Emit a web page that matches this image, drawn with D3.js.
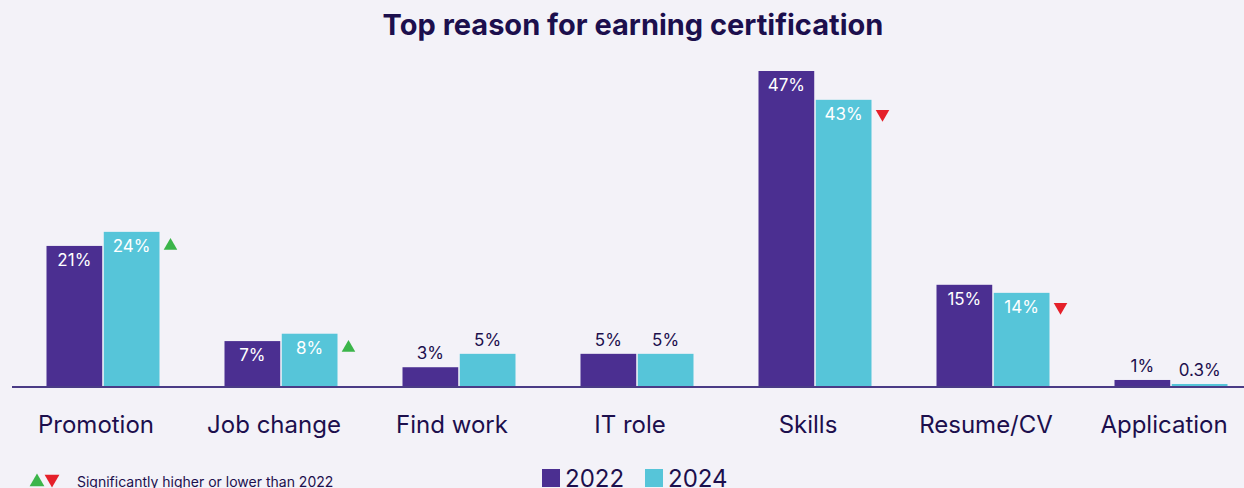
<!DOCTYPE html>
<html>
<head>
<meta charset="utf-8">
<script src="https://cdn.jsdelivr.net/npm/d3@7"></script>
<style>
  html, body { margin: 0; padding: 0; background: #f3f2f8; }
  svg { display: block; font-family: Inter, "Open Sans", sans-serif; }
</style>
</head>
<body>
<svg id="chart" width="1244" height="488"></svg>
<script>
const categories = ["Promotion", "Job change", "Find work", "IT role", "Skills", "Resume/CV", "Application"];
const seriesNames = ["2022", "2024"];
// bar heights
const values2022 = [20.9, 6.7, 2.8, 4.8, 47, 15.1, 0.9];
const values2024 = [23.0, 7.8, 4.8, 4.8, 42.7, 13.9, 0.3];
// printed labels
const labels2022 = ["21%", "7%", "3%", "5%", "47%", "15%", "1%"];
const labels2024 = ["24%", "8%", "5%", "5%", "43%", "14%", "0.3%"];
const significance = ["up", "up", null, null, "down", "down", null];

const colors = { "2022": "#4b2f91", "2024": "#56c5d9" };
const textDark = "#1c0f4d";

const svg = d3.select("#chart");
const W = 1244, H = 488;
const baseline = 386;

const x0 = d3.scaleBand().domain(categories).range([14, 1260]).paddingInner(0).paddingOuter(0);
const x1 = d3.scaleBand().domain(seriesNames).range([0, 113]).paddingInner(0.027);
const xOff = (x0.bandwidth() - 113) / 2;
const y = d3.scaleLinear().domain([0, 47]).range([baseline, 71]);

// Title
svg.append("text")
  .attr("x", 633).attr("y", 35)
  .attr("text-anchor", "middle")
  .attr("font-size", 29).attr("font-weight", 700)
  .attr("fill", textDark)
  .text("Top reason for earning certification");

const data = [];
categories.forEach((c, i) => {
  data.push({ cat: c, s: "2022", v: values2022[i], label: labels2022[i] });
  data.push({ cat: c, s: "2024", v: values2024[i], label: labels2024[i], sig: significance[i] });
});

const g = svg.append("g");

g.selectAll("rect.bar").data(data).enter().append("rect")
  .attr("class", "bar")
  .attr("x", d => x0(d.cat) + xOff + x1(d.s))
  .attr("y", d => y(d.v))
  .attr("width", x1.bandwidth())
  .attr("height", d => baseline - y(d.v))
  .attr("fill", d => colors[d.s]);

// Category axis
const xAxis = d3.axisBottom(x0).tickSize(0).tickPadding(0);
const axisG = svg.append("g").attr("transform", `translate(0,${baseline})`).call(xAxis);
axisG.select(".domain").remove();
axisG.selectAll("text")
  .attr("dy", 0).attr("y", 47).attr("dx", -7)
  .attr("font-size", 24).attr("fill", textDark)
  .attr("font-family", "Inter, sans-serif");
svg.append("line")
  .attr("x1", 12).attr("x2", W)
  .attr("y1", baseline + 1).attr("y2", baseline + 1)
  .attr("stroke", "#4a3b86").attr("stroke-width", 2);

// Value labels
g.selectAll("text.val").data(data).enter().append("text")
  .attr("class", "val")
  .attr("x", d => x0(d.cat) + xOff + x1(d.s) + x1.bandwidth() / 2)
  .attr("y", d => d.v >= 6 ? y(d.v) + 20 : y(d.v) - 8)
  .attr("text-anchor", "middle")
  .attr("font-size", 17)
  .attr("fill", d => d.v >= 6 ? "#ffffff" : textDark)
  .text(d => d.label);

// Significance markers
const tri = d3.symbol().type(d3.symbolTriangle).size(80);
g.selectAll("path.sig").data(data.filter(d => d.sig)).enter().append("path")
  .attr("class", "sig")
  .attr("transform", d => {
    const cx = x0(d.cat) + xOff + x1(d.s) + x1.bandwidth() + 11;
    const cy = y(d.v) + 14;
    return `translate(${cx},${cy}) rotate(${d.sig === "down" ? 180 : 0})`;
  })
  .attr("fill", d => d.sig === "up" ? "#3bb54a" : "#e5202a")
  .attr("d", tri);

// Footnote
const triFoot = d3.symbol().type(d3.symbolTriangle).size(95);
svg.append("path").attr("d", triFoot)
  .attr("transform", "translate(37,482)").attr("fill", "#3bb54a");
svg.append("path").attr("d", triFoot)
  .attr("transform", "translate(52,479) rotate(180)").attr("fill", "#e5202a");
svg.append("text")
  .attr("x", 77).attr("y", 487)
  .attr("font-size", 14).attr("fill", textDark)
  .text("Significantly higher or lower than 2022");

// Legend
const legend = svg.append("g").attr("transform", "translate(542,469)");
seriesNames.forEach((s, i) => {
  const lg = legend.append("g").attr("transform", `translate(${i * 103},0)`);
  lg.append("rect").attr("width", 18).attr("height", 18).attr("fill", colors[s]);
  lg.append("text").attr("x", 23).attr("y", 18)
    .attr("font-size", 24).attr("fill", textDark).text(s);
});
</script>
</body>
</html>
